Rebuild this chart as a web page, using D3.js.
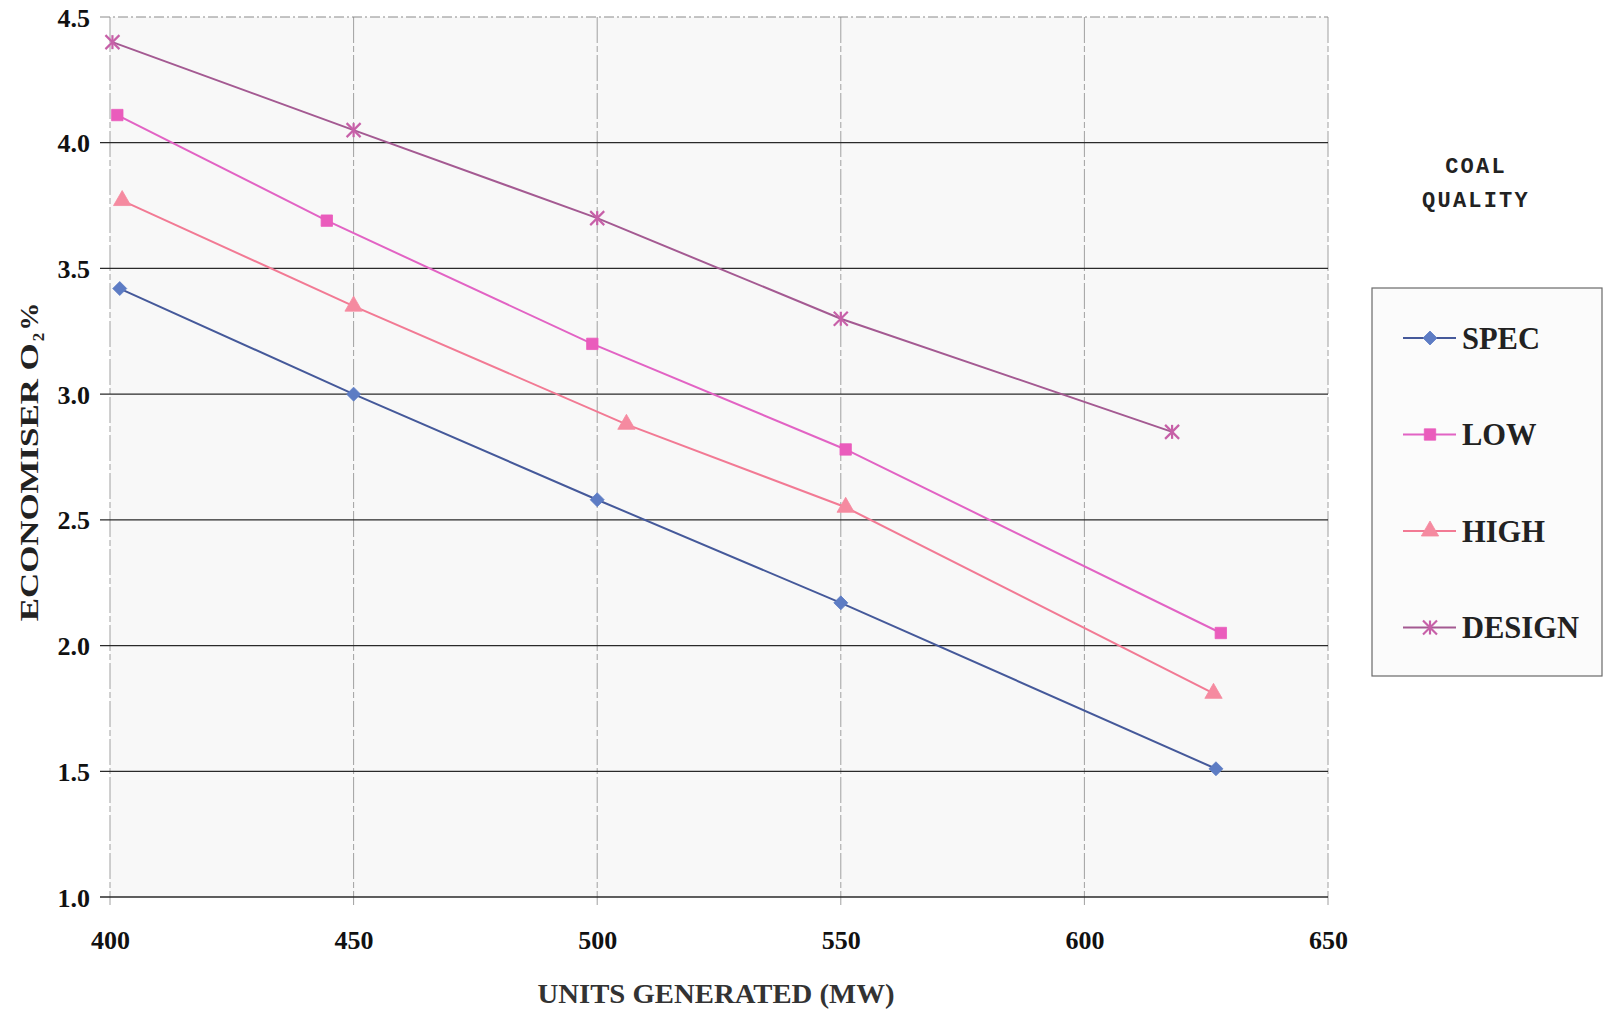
<!DOCTYPE html>
<html>
<head>
<meta charset="utf-8">
<script src="https://cdn.jsdelivr.net/npm/d3@7"></script>
<style>
  html, body { margin: 0; padding: 0; background: #fff; }
  svg { display: block; }
</style>
</head>
<body>
<svg id="chart" width="1610" height="1011"></svg>
<script>
// Economiser O2 vs. unit load for each coal quality
const seriesNames = ["SPEC", "LOW", "HIGH", "DESIGN"];
const specMW  = [402, 450, 500, 550, 627];
const specO2  = [3.42, 3.00, 2.58, 2.17, 1.51];
const lowMW   = [401.5, 444.5, 499, 551, 628];
const lowO2   = [4.11, 3.69, 3.20, 2.78, 2.05];
const highMW  = [402.5, 450, 506, 551, 626.5];
const highO2  = [3.77, 3.35, 2.88, 2.55, 1.81];
const designMW = [400.5, 450, 500, 550, 618];
const designO2 = [4.40, 4.05, 3.70, 3.30, 2.85];

const xTicks = [400, 450, 500, 550, 600, 650];
const yTicks = [1.0, 1.5, 2.0, 2.5, 3.0, 3.5, 4.0, 4.5];
const legendTitle = ["COAL", "QUALITY"];

const series = [
  { name: seriesNames[0], x: specMW,   y: specO2,   line: "#45599a", fill: "#5d7cc4", shape: "diamond" },
  { name: seriesNames[1], x: lowMW,    y: lowO2,    line: "#e263c4", fill: "#ea5cbc", shape: "square" },
  { name: seriesNames[2], x: highMW,   y: highO2,   line: "#f27a94", fill: "#f58aa0", shape: "triangle" },
  { name: seriesNames[3], x: designMW, y: designO2, line: "#a45a92", fill: "#c760a8", shape: "star" }
];

const svg = d3.select("#chart");
const plot = { left: 110, right: 1328, top: 17, bottom: 897 };

const x = d3.scaleLinear().domain([400, 650]).range([plot.left, plot.right]);
const y = d3.scaleLinear().domain([1.0, 4.5]).range([plot.bottom, plot.top]);

// plot background
svg.append("rect")
  .attr("x", plot.left).attr("y", plot.top)
  .attr("width", plot.right - plot.left).attr("height", plot.bottom - plot.top)
  .attr("fill", "#f8f8f8");

// vertical grid lines (light, broken)
svg.append("g")
  .selectAll("line").data(xTicks).join("line")
  .attr("x1", d => x(d)).attr("x2", d => x(d))
  .attr("y1", plot.top).attr("y2", plot.bottom + 8)
  .attr("stroke", "#a0a0a0").attr("stroke-width", 1)
  .attr("stroke-dasharray", "26,3,6,3");

// horizontal grid lines (dark)
svg.append("g")
  .selectAll("line").data(yTicks).join("line")
  .attr("x1", plot.left - 10).attr("x2", plot.right)
  .attr("y1", d => y(d)).attr("y2", d => y(d))
  .attr("stroke", d => d === 4.5 ? "#8a8a8a" : "#2a2a2a")
  .attr("stroke-width", d => d === 4.5 ? 1 : 1.3)
  .attr("stroke-dasharray", d => d === 4.5 ? "10,3,2,3" : null);

// axes: tick labels only
const xAxis = d3.axisBottom(x).tickValues(xTicks).tickSize(0).tickPadding(0).tickFormat(d3.format("d"));
const gx = svg.append("g").attr("transform", `translate(0,${plot.bottom + 39})`).call(xAxis);
gx.select(".domain").remove();
gx.selectAll("text")
  .attr("font-family", "Liberation Serif, Times New Roman, serif")
  .attr("font-weight", "bold").attr("font-size", 26).attr("fill", "#111")
  .attr("dy", "0.5em");

const yAxis = d3.axisLeft(y).tickValues(yTicks).tickSize(0).tickPadding(0).tickFormat(d3.format(".1f"));
const gy = svg.append("g").attr("transform", `translate(${plot.left - 20},0)`).call(yAxis);
gy.select(".domain").remove();
gy.selectAll("text")
  .attr("font-family", "Liberation Serif, Times New Roman, serif")
  .attr("font-weight", "bold").attr("font-size", 26).attr("fill", "#111")
  .attr("dy", "0.35em");

// axis titles
svg.append("text")
  .attr("x", 716).attr("y", 1003)
  .attr("text-anchor", "middle")
  .attr("font-family", "Liberation Serif, Times New Roman, serif")
  .attr("font-weight", "bold").attr("font-size", 27).attr("fill", "#333")
  .attr("textLength", 357).attr("lengthAdjust", "spacingAndGlyphs")
  .text("UNITS GENERATED (MW)");

const yt = svg.append("text")
  .attr("transform", "translate(38,462) rotate(-90)")
  .attr("text-anchor", "middle")
  .attr("font-family", "Liberation Serif, Times New Roman, serif")
  .attr("font-weight", "bold").attr("font-size", 26).attr("fill", "#222");
yt.append("tspan").attr("textLength", 278).attr("lengthAdjust", "spacingAndGlyphs").text("ECONOMISER O");
yt.append("tspan").attr("font-size", 17).attr("dy", 6).attr("dx", 2).text("2");
yt.append("tspan").attr("dy", -6).attr("dx", 2).attr("textLength", 28).attr("lengthAdjust", "spacingAndGlyphs").text("%");

// marker shapes
const symbolFor = {
  square: d3.symbol().type(d3.symbolSquare).size(130),
  triangle: d3.symbol().type(d3.symbolTriangle).size(130)
};
function drawMarker(g, s, cx, cy) {
  if (s.shape === "star") {
    const r = 7;
    const st = g.append("g").attr("transform", `translate(${cx},${cy})`)
      .attr("stroke", s.fill).attr("stroke-width", 2.2).attr("fill", "none");
    st.append("line").attr("x1", -r).attr("y1", -r).attr("x2", r).attr("y2", r);
    st.append("line").attr("x1", -r).attr("y1", r).attr("x2", r).attr("y2", -r);
    st.append("line").attr("x1", 0).attr("y1", -r).attr("x2", 0).attr("y2", r);
  } else if (s.shape === "diamond") {
    const r = 7;
    g.append("path").attr("d", `M0,${-r}L${r},0L0,${r}L${-r},0Z`)
      .attr("transform", `translate(${cx},${cy})`)
      .attr("fill", s.fill).attr("stroke", s.fill).attr("stroke-width", 0.8);
  } else {
    g.append("path").attr("d", symbolFor[s.shape]())
      .attr("transform", `translate(${cx},${cy})`)
      .attr("fill", s.fill).attr("stroke", s.fill).attr("stroke-width", 0.8);
  }
}

const line = d3.line().x(d => x(d[0])).y(d => y(d[1]));
series.forEach(s => {
  const pts = s.x.map((v, i) => [v, s.y[i]]);
  const g = svg.append("g");
  g.append("path").datum(pts).attr("d", line)
    .attr("fill", "none").attr("stroke", s.line).attr("stroke-width", 2);
  pts.forEach(p => drawMarker(g, s, x(p[0]), y(p[1])));
});

// legend title
svg.append("g").selectAll("text").data(legendTitle).join("text")
  .attr("x", 1476).attr("y", (d, i) => 173 + i * 34)
  .attr("text-anchor", "middle")
  .attr("font-family", "Liberation Mono, Courier New, monospace")
  .attr("font-weight", "bold").attr("font-size", 22).attr("letter-spacing", 2.2)
  .attr("fill", "#222")
  .text(d => d);

// legend box
const lg = svg.append("g");
lg.append("rect")
  .attr("x", 1372).attr("y", 288).attr("width", 230).attr("height", 388)
  .attr("fill", "#fbfbfb").attr("stroke", "#6a6a6a").attr("stroke-width", 1.2);
series.forEach((s, i) => {
  const cy = 338 + i * 96.5;
  const row = lg.append("g");
  row.append("line").attr("x1", 1403).attr("x2", 1456).attr("y1", cy).attr("y2", cy)
    .attr("stroke", s.line).attr("stroke-width", 2);
  drawMarker(row, s, 1430, cy);
  row.append("text").attr("x", 1462).attr("y", cy).attr("dy", "0.36em")
    .attr("font-family", "Liberation Serif, Times New Roman, serif")
    .attr("font-weight", "bold").attr("font-size", 30.5).attr("fill", "#222")
    .text(s.name);
});
</script>
</body>
</html>
